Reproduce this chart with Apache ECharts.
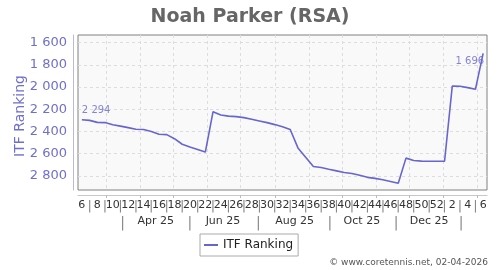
<!DOCTYPE html>
<html>
<head>
<meta charset="utf-8">
<script src="https://cdn.jsdelivr.net/npm/echarts@6/dist/echarts.min.js"></script>
<style>
html,body{margin:0;padding:0;background:#fff;}
#chart{width:500px;height:270px;}
</style>
</head>
<body>
<div id="chart"></div>
<script>
// ---- data ----
var titleText = 'Noah Parker (RSA)';
var seriesName = 'ITF Ranking';
var firstWeekDate = '2025-02-07';
var weekNumbers = [6,7,8,9,10,11,12,13,14,15,16,17,18,19,20,21,22,23,24,25,26,27,28,29,30,31,32,33,34,35,36,37,38,39,40,41,42,43,44,45,46,47,48,49,50,51,52,1,2,3,4,5,6];
var rankings = [2294,2300,2318,2320,2340,2352,2365,2380,2382,2400,2425,2428,2465,2515,2540,2562,2585,2222,2252,2262,2266,2275,2290,2305,2320,2338,2358,2382,2548,2632,2716,2724,2740,2755,2770,2778,2795,2813,2822,2835,2850,2866,2640,2662,2667,2668,2668,2668,1990,1993,2005,2020,1696];
var yTicks = [1600,1800,2000,2200,2400,2600,2800];
var monthStarts = ['2025-03-01','2025-04-01','2025-05-01','2025-06-01','2025-07-01','2025-08-01','2025-09-01','2025-10-01','2025-11-01','2025-12-01','2026-01-01','2026-02-01'];
var monthLabels = ['Apr 25','Jun 25','Aug 25','Oct 25','Dec 25'];
var monthLabelDates = ['2025-04-15','2025-06-15','2025-08-19','2025-10-19','2025-12-19'];
var monthSepDates = ['2025-03-16','2025-05-16','2025-07-17','2025-09-20','2025-11-19','2026-01-17'];
var creditText = '\u00a9 www.coretennis.net, 02-04-2026';

// ---- helpers ----
var base = Date.parse(firstWeekDate + 'T00:00:00Z');
function pos(d){ return (Date.parse(d + 'T00:00:00Z') - base) / (7*86400000); }
function fmt(v){ return String(v).replace(/\B(?=(\d{3})+(?!\d))/g, ' '); }
function key(v){ return Number(v).toFixed(3); }

var weekIdx = weekNumbers.map(function(w,i){return i;});
var gridVals = monthStarts.map(pos);
var monthMap = {};
var monthVals = [];
monthLabelDates.forEach(function(d,i){ var p=pos(d); monthMap[key(p)] = monthLabels[i]; monthVals.push(p); });
monthSepDates.forEach(function(d){ var p=pos(d); monthMap[key(p)] = '|'; monthVals.push(p); });
monthVals.sort(function(a,b){return a-b;});

var lineData = rankings.map(function(v,i){ return [weekIdx[i], v]; });
var last = rankings.length-1;
var labelData = [
  {value:[weekIdx[0], rankings[0]], label:{position:[0,-14], align:'left', verticalAlign:'top'}},
  {value:[weekIdx[last], rankings[last]], label:{position:[1,3], align:'right', verticalAlign:'top'}}
];

var purple = '#6666cc';
var chart = echarts.init(document.getElementById('chart'), null, {renderer:'canvas'});
chart.setOption({
  animation:false,
  backgroundColor:'#ffffff',
  title:{text:titleText, left:'center', top:3, textStyle:{fontFamily:'DejaVu Sans', fontWeight:'bold', fontSize:19, color:'#666666'}},
  legend:{data:[seriesName], left:200, top:234, borderColor:'#aaaaaa', borderWidth:1, borderRadius:0, padding:[5,5,5,4], itemWidth:14, itemHeight:2, itemGap:4,
    icon:'rect',
    textStyle:{fontFamily:'DejaVu Sans', fontSize:12, color:'#222222'}},
  grid:{left:78, right:13, top:35, bottom:80, show:true, borderColor:'#808080', borderWidth:1, backgroundColor:'#f9f9f9'},
  xAxis:[{
    type:'value', min:-0.5, max:weekIdx[last]+0.5, position:'bottom', offset:5,
    axisLine:{show:true, onZero:false, lineStyle:{color:'#c8c8c8', width:1}},
    axisTick:{show:true, customValues:gridVals, length:3, lineStyle:{color:'#bbbbbb'}},
    splitLine:{show:true, lineStyle:{type:[3,3], color:'#dddddd', width:1}},
    axisLabel:{customValues:weekIdx, margin:5, fontFamily:'DejaVu Sans', fontSize:11, color:'#333333',
      formatter:function(v){ var i=Math.round(v); return (i%2===0) ? String(weekNumbers[i]) : '{s|\u007c}'; },
      rich:{s:{fontSize:13, color:'#888888', fontFamily:'DejaVu Sans'}}}
  },{
    type:'value', min:-0.5, max:weekIdx[last]+0.5, position:'bottom', offset:5,
    axisLine:{show:false, onZero:false}, axisTick:{show:false}, splitLine:{show:false},
    axisLabel:{customValues:monthVals, margin:21, fontFamily:'DejaVu Sans', fontSize:11, color:'#333333',
      formatter:function(v){ var t=monthMap[key(v)]||''; return t==='|' ? '{s|\u007c}' : t; },
      rich:{s:{fontSize:14, color:'#888888', fontFamily:'DejaVu Sans'}}}
  }],
  yAxis:{
    type:'value', inverse:true, min:1531, max:2927, offset:5,
    axisLine:{show:true, onZero:false, lineStyle:{color:'#b8b8e0'}},
    axisTick:{show:false, customValues:yTicks},
    splitLine:{show:true, lineStyle:{type:[3,3], color:'#dddddd', width:1}},
    axisLabel:{customValues:yTicks, margin:6, fontFamily:'DejaVu Sans', fontSize:13, color:'#6f6fcf', formatter:function(v){return fmt(v);}}
  },
  series:[{
    name:seriesName, type:'line', data:lineData, symbol:'none', xAxisIndex:0,
    lineStyle:{color:purple, width:1.6}, itemStyle:{color:purple}
  },{
    name:'labels', type:'scatter', data:labelData, symbolSize:0, xAxisIndex:0, silent:true,
    label:{show:true, fontFamily:'DejaVu Sans', fontSize:10, color:purple, formatter:function(p){return fmt(p.value[1]);}}
  }],
  graphic:[
    {type:'text', x:20, y:116, rotation:Math.PI/2, style:{text:seriesName, fontFamily:'DejaVu Sans', fontSize:14, fill:'#6f6fcf', align:'center', verticalAlign:'middle'}},
    {type:'text', right:12, top:258, style:{text:creditText, fontFamily:'DejaVu Sans', fontSize:9, fill:'#555555'}}
  ]
});
</script>
</body>
</html>
